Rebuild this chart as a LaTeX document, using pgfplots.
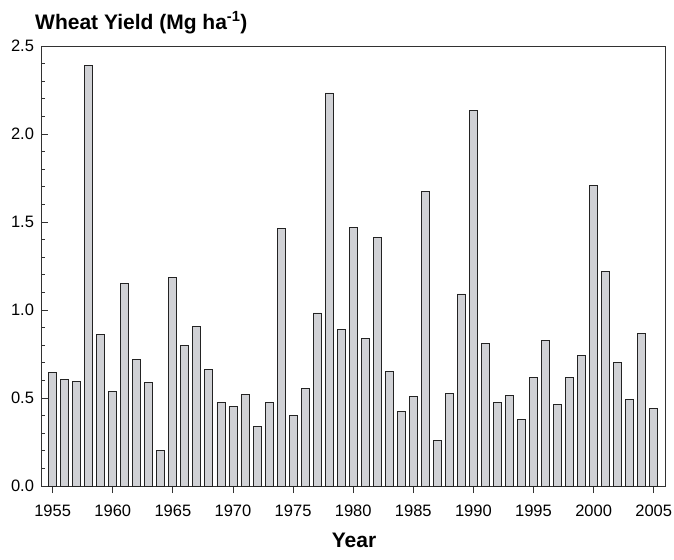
\documentclass[border=0pt]{standalone}
\usepackage{fontspec}
\setmainfont{Liberation Sans}
\usepackage{pgfplots}
\pgfplotsset{compat=1.18}
\definecolor{barfill}{RGB}{208,209,213}
\definecolor{baredge}{RGB}{35,35,35}
\definecolor{axline}{RGB}{50,50,50}
\begin{document}
\begin{tikzpicture}[x=1pt,y=1pt]
\useasboundingbox (-41,-73) rectangle (633,486);
\begin{axis}[
  at={(0,0)}, anchor=south west,
  scale only axis, width=624pt, height=440pt,
  xmin=1954.03, xmax=2005.94, ymin=0, ymax=2.5,
  axis line style={axline, line width=0.9pt},
  xtick={1955,1960,...,2005},
  ytick={0,0.5,...,2.5},
  minor y tick num=4,
  xtick pos=bottom, ytick pos=left,
  xtick align=outside, ytick align=inside,
  major tick length=7pt, minor tick length=4.5pt,
  every tick/.style={axline, line width=0.8pt},
  /pgf/number format/assume math mode=true,
  x tick label style={font=\fontsize{16.5}{19}\selectfont, /pgf/number format/1000 sep={}, yshift=-8.5pt},
  y tick label style={font=\fontsize{16.5}{19}\selectfont, /pgf/number format/fixed, /pgf/number format/fixed zerofill, /pgf/number format/precision=1, xshift=-3.5pt},
  scaled y ticks=false,
  ybar, bar width=8pt,
]
\addplot[fill=barfill, draw=baredge, line width=0.9pt] coordinates {
(1955,0.644) (1956,0.606) (1957,0.595) (1958,2.390) (1959,0.862)
(1960,0.536) (1961,1.153) (1962,0.720) (1963,0.589) (1964,0.203)
(1965,1.186) (1966,0.799) (1967,0.905) (1968,0.663) (1969,0.475)
(1970,0.451) (1971,0.519) (1972,0.337) (1973,0.475) (1974,1.464)
(1975,0.400) (1976,0.553) (1977,0.983) (1978,2.233) (1979,0.890)
(1980,1.468) (1981,0.837) (1982,1.413) (1983,0.650) (1984,0.426)
(1985,0.508) (1986,1.672) (1987,0.258) (1988,0.525) (1989,1.091)
(1990,2.131) (1991,0.809) (1992,0.475) (1993,0.515) (1994,0.379)
(1995,0.617) (1996,0.828) (1997,0.464) (1998,0.616) (1999,0.742)
(2000,1.708) (2001,1.220) (2002,0.703) (2003,0.492) (2004,0.869)
(2005,0.441)
};
\end{axis}
\node[anchor=base west, font=\fontsize{21}{25}\selectfont\bfseries, inner sep=0pt] at (-6,456.5) {Wheat Yield (Mg ha\textsuperscript{-1})};
\node[anchor=base, font=\fontsize{21}{25}\selectfont\bfseries, inner sep=0pt] at (313,-62) {Year};
\end{tikzpicture}
\end{document}
